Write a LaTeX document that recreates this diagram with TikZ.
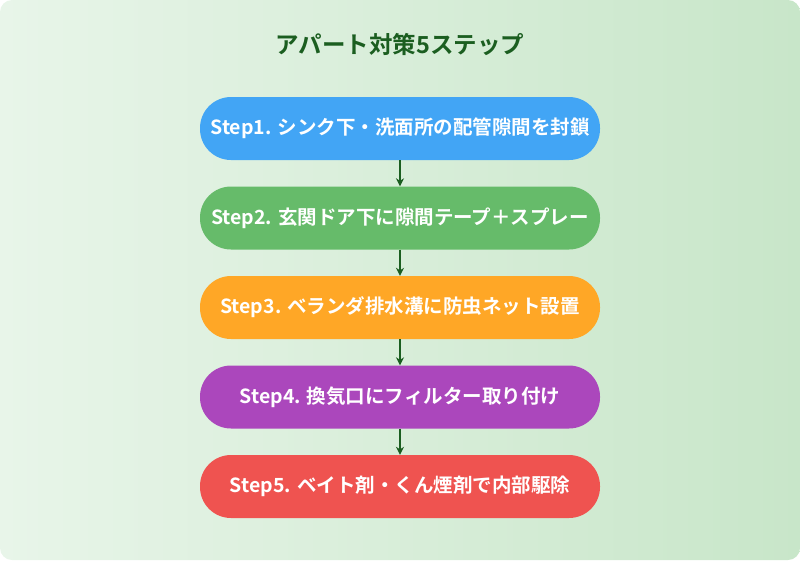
\documentclass[tikz,border=0pt]{standalone}
\usepackage{fontspec}
\newfontfamily\jp{Noto Sans CJK JP}[BoldFont={Noto Sans CJK JP Bold}]
\usetikzlibrary{arrows.meta}
\definecolor{bgA}{HTML}{E8F5E9}
\definecolor{bgB}{HTML}{C8E6C9}
\definecolor{ttl}{HTML}{1B5E20}
\definecolor{c1}{HTML}{42A5F5}
\definecolor{c2}{HTML}{66BB6A}
\definecolor{c3}{HTML}{FFA726}
\definecolor{c4}{HTML}{AB47BC}
\definecolor{c5}{HTML}{EF5350}
\begin{document}
\begin{tikzpicture}[x=1pt,y=-1pt,
  stepbox/.style={rounded corners=31pt,minimum width=400pt,minimum height=63pt,inner sep=0pt,
    text=white,font=\jp\bfseries\fontsize{19.5pt}{22pt}\selectfont},
  conn/.style={draw=ttl,line width=2pt,-{Stealth[length=8pt,width=8pt]}}]
\useasboundingbox (0,0) rectangle (800,560);
\shade[left color=bgA,right color=bgB,rounded corners=12pt] (0,0) rectangle (800,560);
\node[font=\jp\bfseries\fontsize{23.5pt}{26pt}\selectfont,text=ttl] (t) at (400,45) {アパート対策5ステップ};
\node[stepbox,fill=c1] (s1) at (400,128.5) {Step1. シンク下・洗面所の配管隙間を封鎖};
\node[stepbox,fill=c2] (s2) at (400,218) {Step2. 玄関ドア下に隙間テープ＋スプレー};
\node[stepbox,fill=c3] (s3) at (400,307.5) {Step3. ベランダ排水溝に防虫ネット設置};
\node[stepbox,fill=c4] (s4) at (400,397) {Step4. 換気口にフィルター取り付け};
\node[stepbox,fill=c5] (s5) at (400,486.5) {Step5. ベイト剤・くん煙剤で内部駆除};
\draw[conn] (s1) -- (s2);
\draw[conn] (s2) -- (s3);
\draw[conn] (s3) -- (s4);
\draw[conn] (s4) -- (s5);
\end{tikzpicture}
\end{document}
